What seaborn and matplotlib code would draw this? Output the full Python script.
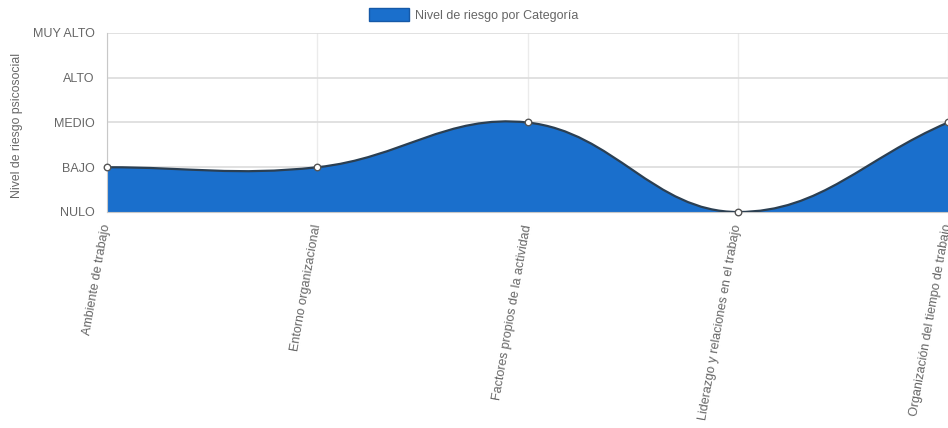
import numpy as np
import pandas as pd
import matplotlib
matplotlib.use("Agg")
import matplotlib.pyplot as plt
from matplotlib.path import Path
from matplotlib.patches import PathPatch, Patch
import seaborn as sns

# Data
CATEGORIES = [
    "Ambiente de trabajo",
    "Entorno organizacional",
    "Factores propios de la actividad",
    "Liderazgo y relaciones en el trabajo",
    "Organización del tiempo de trabajo",
]
RISK_VALUES = [1, 1, 2, 0, 2]
LEVEL_LABELS = ["NULO", "BAJO", "MEDIO", "ALTO", "MUY ALTO"]
SERIES_LABEL = "Nivel de riesgo por Categoría"
Y_TITLE = "Nivel de riesgo psicosocial"

FILL_COLOR = "#1a6fcc"
LINE_COLOR = "#2b3f52"
TEXT_COLOR = "#666666"
TENSION = 0.4


def spline_controls(xs, ys, sx, sy, t=TENSION):
    """Chart.js style bezier control points (computed in pixel-like space)."""
    px = np.asarray(xs, float) * sx
    py = np.asarray(ys, float) * sy
    n = len(px)
    cp1, cp2 = [], []
    for i in range(n):
        pp = (px[max(i - 1, 0)], py[max(i - 1, 0)])
        cu = (px[i], py[i])
        nx = (px[min(i + 1, n - 1)], py[min(i + 1, n - 1)])
        d01 = np.hypot(cu[0] - pp[0], cu[1] - pp[1])
        d12 = np.hypot(nx[0] - cu[0], nx[1] - cu[1])
        tot = d01 + d12
        s01 = d01 / tot if tot else 0
        s12 = d12 / tot if tot else 0
        fa, fb = t * s01, t * s12
        cp1.append(((cu[0] - fa * (nx[0] - pp[0])) / sx, (cu[1] - fa * (nx[1] - pp[1])) / sy))
        cp2.append(((cu[0] + fb * (nx[0] - pp[0])) / sx, (cu[1] + fb * (nx[1] - pp[1])) / sy))
    return cp1, cp2


def main():
    sns.set_style("white")
    plt.rcParams["font.family"] = ["Liberation Sans", "DejaVu Sans"]

    df = pd.DataFrame({"pos": np.arange(len(CATEGORIES)), "categoria": CATEGORIES, "nivel": RISK_VALUES})

    fig = plt.figure(figsize=(9.48, 4.28), dpi=100)
    ax = fig.add_axes([107 / 948, 1 - 212 / 428, 1 - 107 / 948, (212 - 33) / 428])

    # smooth curve through the points
    cp1, cp2 = spline_controls(df["pos"], df["nivel"], 210, 45)
    verts = [(df["pos"][0], df["nivel"][0])]
    codes = [Path.MOVETO]
    for i in range(len(df) - 1):
        verts += [cp2[i], cp1[i + 1], (df["pos"][i + 1], df["nivel"][i + 1])]
        codes += [Path.CURVE4] * 3
    curve = Path(verts, codes)
    fill_path = Path(verts + [(df["pos"].iloc[-1], 0), (df["pos"][0], 0), verts[0]],
                     codes + [Path.LINETO, Path.LINETO, Path.CLOSEPOLY])
    ax.add_patch(PathPatch(fill_path, facecolor=FILL_COLOR, edgecolor="none", zorder=2))
    ax.add_patch(PathPatch(curve, facecolor="none", edgecolor=LINE_COLOR, lw=1.6, zorder=3))

    sns.scatterplot(data=df, x="pos", y="nivel", ax=ax, s=22, color="white",
                    edgecolor="#555555", linewidth=1.0, zorder=4, clip_on=False, legend=False)

    ax.set_xlim(0, len(CATEGORIES) - 1)
    ax.set_ylim(0, len(LEVEL_LABELS) - 1)
    ax.set_yticks(range(len(LEVEL_LABELS)))
    ax.set_yticklabels(LEVEL_LABELS, fontsize=9, color=TEXT_COLOR)
    ax.set_xticks(df["pos"])
    ax.set_xticklabels(CATEGORIES, fontsize=9, color=TEXT_COLOR, rotation=80,
                       ha="right", va="center", rotation_mode="anchor")
    ax.tick_params(axis="y", length=8, color="#d0d0d0", pad=1)
    ax.tick_params(axis="x", length=6, color="#e6e6e6", pad=3)
    ax.set_xlabel("")
    ax.set_ylabel("")
    ax.grid(axis="y", color="#dcdcdc", lw=1.2, zorder=0)
    ax.grid(axis="x", color="#ebebeb", lw=1.0, zorder=0)
    ax.set_axisbelow(True)
    for side in ["top", "right"]:
        ax.spines[side].set_visible(False)
    ax.spines["left"].set_color("#c8c8c8")
    ax.spines["bottom"].set_color("#c8c8c8")

    fig.text(17 / 948, 1 - 125 / 428, Y_TITLE, rotation=90, ha="center", va="center",
             fontsize=8.8, color=TEXT_COLOR)

    handle = Patch(facecolor=FILL_COLOR, edgecolor="#1559a8", lw=1)
    fig.legend([handle], [SERIES_LABEL], loc="center", bbox_to_anchor=(474 / 948, 1 - 15 / 428),
               frameon=False, fontsize=9, labelcolor=TEXT_COLOR, handlelength=3.2,
               handleheight=1.2, handletextpad=0.5, borderpad=0)

    fig.savefig("out.png", dpi=100)


if __name__ == "__main__":
    main()
